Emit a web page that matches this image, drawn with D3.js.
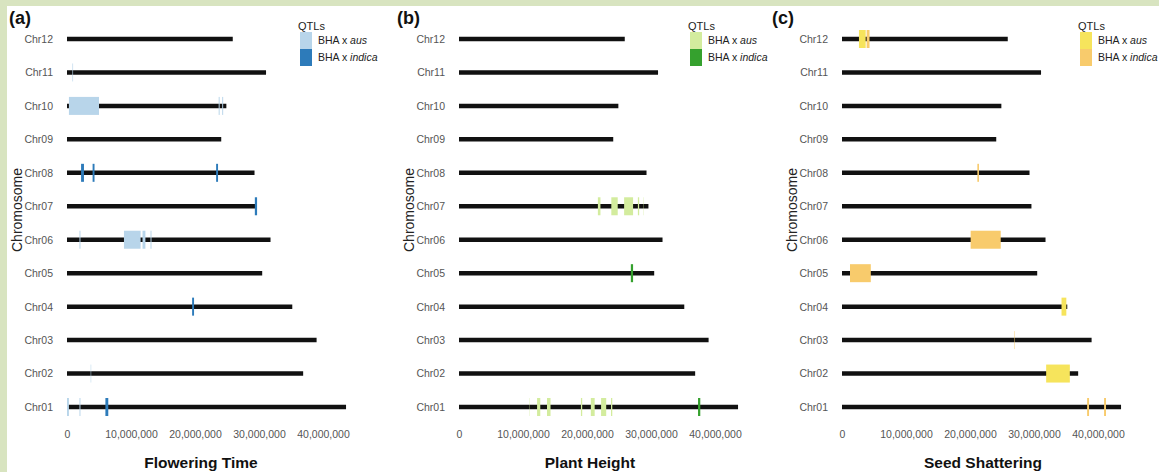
<!DOCTYPE html>
<html>
<head>
<meta charset="utf-8">
<title>QTL map</title>
<style>
  body { margin: 0; background: #fff; }
  svg { display: block; font-family: "Liberation Sans", Arial, Helvetica, sans-serif; }
  .chr text { fill: #555; font-size: 10.5px; }
  .xax text { fill: #555; font-size: 10.5px; }
</style>
</head>
<body>
<div id="chart"></div>
<script src="https://cdn.jsdelivr.net/npm/d3@7"></script>
<script>
// chromosomes and their lengths (Mb)
var chromosomes = ["Chr01","Chr02","Chr03","Chr04","Chr05","Chr06","Chr07","Chr08","Chr09","Chr10","Chr11","Chr12"];
var chromLength = [43.6, 36.9, 39.0, 35.2, 30.5, 31.8, 29.6, 29.3, 24.1, 24.9, 31.1, 25.9];
var xTicks = [0, 10, 20, 30, 40];

// QTL intervals [chromosome, start Mb, end Mb]
var floweringAus = [
  ["Chr11", 0.85, 0.95], ["Chr10", 0.3, 5.0], ["Chr10", 23.7, 23.85], ["Chr10", 24.25, 24.4],
  ["Chr06", 1.95, 2.1], ["Chr06", 8.9, 11.5], ["Chr06", 11.8, 12.25], ["Chr06", 13.05, 13.2],
  ["Chr02", 3.7, 3.78], ["Chr01", 0.0, 0.3], ["Chr01", 1.95, 2.1]
];
var floweringIndica = [
  ["Chr08", 2.2, 2.65], ["Chr08", 4.0, 4.3], ["Chr08", 23.3, 23.6],
  ["Chr07", 29.35, 29.7], ["Chr04", 19.55, 19.85], ["Chr01", 6.0, 6.45]
];
var heightAus = [
  ["Chr07", 21.7, 22.1], ["Chr07", 23.8, 24.8], ["Chr07", 25.8, 27.2], ["Chr07", 27.95, 28.15],
  ["Chr07", 28.85, 28.9], ["Chr01", 10.95, 11.0], ["Chr01", 12.2, 12.7], ["Chr01", 13.75, 14.3],
  ["Chr01", 19.05, 19.25], ["Chr01", 20.6, 21.2], ["Chr01", 22.2, 23.0], ["Chr01", 23.75, 23.95]
];
var heightIndica = [
  ["Chr05", 26.85, 27.2], ["Chr01", 37.35, 37.7]
];
var shatterAus = [
  ["Chr12", 2.65, 3.7], ["Chr04", 34.3, 35.05], ["Chr02", 31.9, 35.6]
];
var shatterIndica = [
  ["Chr12", 3.85, 4.3], ["Chr08", 21.15, 21.4], ["Chr06", 20.1, 24.8], ["Chr05", 1.25, 4.5],
  ["Chr03", 26.95, 27.02], ["Chr01", 38.3, 38.6], ["Chr01", 40.95, 41.25]
];

var panels = [
  {tag: "(a)", title: "Flowering Time", off: 0, tagX: 9, titleX: 201, legX: 298,
   aus: floweringAus, indica: floweringIndica, cAus: "#b8d5ea", cInd: "#2d7bba"},
  {tag: "(b)", title: "Plant Height", off: 392, tagX: 397, titleX: 590, legX: 688,
   aus: heightAus, indica: heightIndica, cAus: "#d3ec9e", cInd: "#35a12e"},
  {tag: "(c)", title: "Seed Shattering", off: 775, tagX: 772, titleX: 983, legX: 1078,
   aus: shatterAus, indica: shatterIndica, cAus: "#f6e45c", cInd: "#f8cb6c"}
];

var w = 1159, h = 472;
var svg = d3.select("#chart").append("svg").attr("width", w).attr("height", h);

svg.append("rect").attr("width", w).attr("height", h).attr("fill", "#d8e4c0");
svg.append("rect").attr("x", 7).attr("y", 6).attr("width", w - 7).attr("height", h - 6).attr("fill", "#fff");

var y = d3.scalePoint().domain(chromosomes).range([407, 39]);
var chromData = chromosomes.map(function(c, i) { return {chr: c, len: chromLength[i]}; });

panels.forEach(function(p) {
  var g = svg.append("g");
  var x = d3.scaleLinear().domain([0, 40]).range([67 + p.off, 323 + p.off]);

  // chromosome bars
  g.selectAll(".bar")
    .data(chromData)
    .enter()
    .append("line")
    .attr("x1", x(0))
    .attr("x2", function(d) { return x(d.len); })
    .attr("y1", function(d) { return y(d.chr); })
    .attr("y2", function(d) { return y(d.chr); })
    .attr("stroke", "#111")
    .attr("stroke-width", 4.5);

  // QTL boxes
  var qtls = p.aus.map(function(d) { return {d: d, c: p.cAus}; })
    .concat(p.indica.map(function(d) { return {d: d, c: p.cInd}; }));
  g.selectAll(".qtl")
    .data(qtls)
    .enter()
    .append("rect")
    .attr("x", function(q) { return x(q.d[1]); })
    .attr("width", function(q) { return x(q.d[2]) - x(q.d[1]); })
    .attr("y", function(q) { return y(q.d[0]) - 9; })
    .attr("height", 18)
    .attr("fill", function(q) { return q.c; });

  // axes
  var yAxis = d3.axisLeft(y).tickSize(0).tickPadding(4);
  g.append("g").attr("class", "chr")
    .attr("transform", "translate(" + (57 + p.off) + ",0)")
    .call(yAxis)
    .call(function(s) { s.select(".domain").remove(); });

  var xAxis = d3.axisBottom(x).tickValues(xTicks).tickSize(0).tickPadding(4)
    .tickFormat(function(d) { return d3.format(",")(d * 1e6); });
  g.append("g").attr("class", "xax")
    .attr("transform", "translate(0,427)")
    .call(xAxis)
    .call(function(s) { s.select(".domain").remove(); });

  // labels
  g.append("text").attr("x", p.tagX).attr("y", 24)
    .attr("font-size", "18px").attr("font-weight", "bold").attr("fill", "#111").text(p.tag);
  g.append("text").attr("x", p.titleX).attr("y", 468).attr("text-anchor", "middle")
    .attr("font-size", "15.5px").attr("font-weight", "bold").attr("fill", "#111").text(p.title);
  g.append("text")
    .attr("transform", "translate(" + (22 + p.off) + ",210) rotate(-90)")
    .attr("text-anchor", "middle")
    .attr("font-size", "14px").attr("fill", "#222").text("Chromosome");

  // legend
  var leg = g.append("g").attr("transform", "translate(" + p.legX + ",0)");
  leg.append("text").attr("x", 0).attr("y", 30).attr("font-size", "11px").attr("fill", "#222").text("QTLs");
  [["aus", p.cAus, 32], ["indica", p.cInd, 49]].forEach(function(k) {
    leg.append("rect").attr("x", 2).attr("y", k[2]).attr("width", 12).attr("height", 17).attr("fill", k[1]);
    var t = leg.append("text").attr("x", 20).attr("y", k[2] + 8.5).attr("dy", "0.35em")
      .attr("font-size", "10.5px").attr("fill", "#222");
    t.append("tspan").text("BHA x ");
    t.append("tspan").attr("font-style", "italic").text(k[0]);
  });
});
</script>
</body>
</html>
